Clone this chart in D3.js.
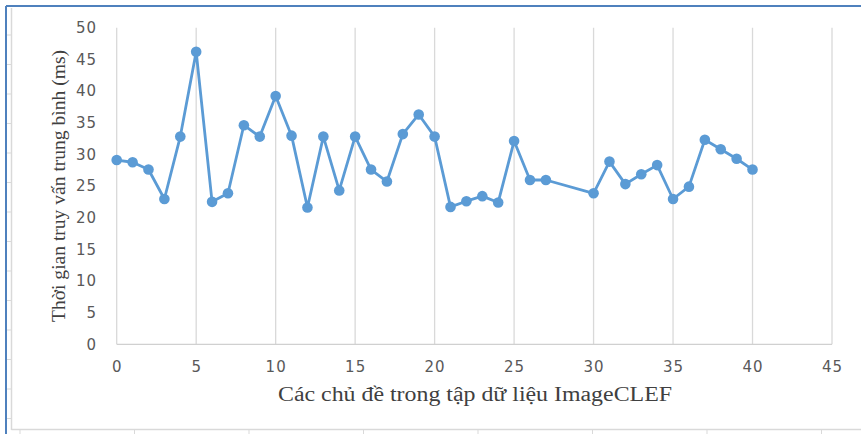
<!DOCTYPE html>
<html>
<head>
<meta charset="utf-8">
<script src="https://cdn.jsdelivr.net/npm/d3@7"></script>
<style>
html,body{margin:0;padding:0;background:#fff;}
svg{display:block;}
</style>
</head>
<body>
<svg id="chart" width="861" height="434"></svg>
<script>
// Data
const topics = [0,1,2,3,4,5,6,7,8,9,10,11,12,13,14,15,16,17,18,19,20,21,22,23,24,25,26,27,30,31,32,33,34,35,36,37,38,39,40];
const queryTime = [29.1,28.75,27.6,22.95,32.8,46.2,22.5,23.85,34.6,32.8,39.2,32.95,21.6,32.8,24.3,32.8,27.6,25.7,33.2,36.3,32.8,21.7,22.6,23.4,22.4,32.1,25.95,25.95,23.85,28.85,25.3,26.85,28.3,22.95,24.9,32.3,30.8,29.3,27.6];
const xTicks = [0,5,10,15,20,25,30,35,40,45];
const yTicks = [0,5,10,15,20,25,30,35,40,45,50];
const xTitle = "Các chủ đề trong tập dữ liệu ImageCLEF";
const yTitle = "Thời gian truy vấn trung bình (ms)";

const svg = d3.select("#chart");
const W = 861, H = 434;

// Decorative page frame (document screenshot border)
const frame = svg.append("g");
frame.append("line").attr("x1",6).attr("x2",W).attr("y1",6).attr("y2",6)
  .attr("stroke","#4f81bd").attr("stroke-width",2);
frame.append("line").attr("x1",6).attr("x2",6).attr("y1",6).attr("y2",H)
  .attr("stroke","#4f81bd").attr("stroke-width",2);
frame.append("line").attr("x1",11.5).attr("x2",11.5).attr("y1",8).attr("y2",430)
  .attr("stroke","#d9d9d9").attr("stroke-width",1.5);
frame.append("line").attr("x1",11.5).attr("x2",W).attr("y1",429.5).attr("y2",429.5)
  .attr("stroke","#d9d9d9").attr("stroke-width",1.5);
const leftRuler = d3.range(35, 430, 29.5);
frame.selectAll(".lt").data(leftRuler).join("line")
  .attr("x1",7).attr("x2",11).attr("y1",d=>d).attr("y2",d=>d)
  .attr("stroke","#d9d9d9").attr("stroke-width",1);
const bottomRuler = d3.range(20, W, 114.5);
frame.selectAll(".bt").data(bottomRuler).join("line")
  .attr("x1",d=>d).attr("x2",d=>d).attr("y1",430).attr("y2",434)
  .attr("stroke","#d9d9d9").attr("stroke-width",1);

// Scales
const x = d3.scaleLinear().domain([0,45]).range([116.7, 832]);
const y = d3.scaleLinear().domain([0,50]).range([344.3, 27.7]);

// Vertical gridlines
const g = svg.append("g");
g.selectAll(".vg").data(xTicks).join("line")
  .attr("x1",d=>x(d)).attr("x2",d=>x(d)).attr("y1",y(50)).attr("y2",y(0))
  .attr("stroke","#d9d9d9").attr("stroke-width",1.3);
// Bottom axis line
g.append("line").attr("x1",x(0)).attr("x2",x(45)).attr("y1",y(0)).attr("y2",y(0))
  .attr("stroke","#d0d0d0").attr("stroke-width",1.3);

// Axes labels via d3 axes
const xAxis = d3.axisBottom(x).tickValues(xTicks).tickSize(0).tickPadding(0);
const xa = svg.append("g").attr("transform",`translate(0,${y(0)+17})`).call(xAxis);
xa.select(".domain").remove();
xa.selectAll("text").attr("font-family","DejaVu Sans, sans-serif").attr("font-size",15)
  .attr("fill","#595959").attr("letter-spacing","1px").attr("dy","0.71em");

const yAxis = d3.axisLeft(y).tickValues(yTicks).tickSize(0).tickPadding(0);
const ya = svg.append("g").attr("transform",`translate(97,0)`).call(yAxis);
ya.select(".domain").remove();
ya.selectAll("text").attr("font-family","DejaVu Sans, sans-serif").attr("font-size",15)
  .attr("fill","#595959").attr("letter-spacing","1px");

// Titles
svg.append("text").attr("x",475).attr("y",401).attr("text-anchor","middle")
  .attr("font-family","Liberation Serif, Times New Roman, serif").attr("font-size",20)
  .attr("textLength",394).attr("lengthAdjust","spacingAndGlyphs")
  .attr("fill","#404040").text(xTitle);
svg.append("text").attr("transform","translate(65,186) rotate(-90)").attr("text-anchor","middle")
  .attr("font-family","Liberation Serif, Times New Roman, serif").attr("font-size",19.5)
  .attr("textLength",272).attr("lengthAdjust","spacingAndGlyphs")
  .attr("fill","#404040").text(yTitle);

// Line + markers
const pts = topics.map((t,i)=>({t, v: queryTime[i]}));
const line = d3.line().x(d=>x(d.t)).y(d=>y(d.v));
svg.append("path").datum(pts).attr("d",line).attr("fill","none")
  .attr("stroke","#5b9bd5").attr("stroke-width",2.8).attr("stroke-linejoin","round");
svg.selectAll(".pt").data(pts).join("circle")
  .attr("cx",d=>x(d.t)).attr("cy",d=>y(d.v)).attr("r",5.3)
  .attr("fill","#5b9bd5");
</script>
</body>
</html>
